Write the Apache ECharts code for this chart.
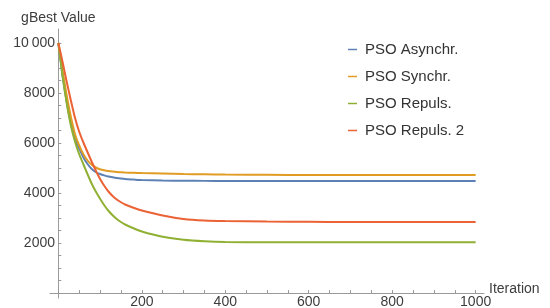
<!DOCTYPE html>
<html>
<head>
<meta charset="utf-8">
<script src="https://cdn.jsdelivr.net/npm/echarts@6/dist/echarts.min.js"></script>
<style>
  html, body { margin: 0; padding: 0; background: #fff; }
  #main { width: 550px; height: 308px; }
</style>
</head>
<body>
<div id="main"></div>
<script>
// iterations
var iterations = [0, 10, 20, 30, 40, 50, 60, 70, 80, 90, 100, 110, 120, 130, 140, 150, 160, 180, 200, 250, 300, 350, 400, 500, 600, 700, 800, 900, 1000];

var asynchr = [10000, 8700, 7650, 6800, 6150, 5780, 5420, 5160, 4960, 4830, 4760, 4705, 4660, 4628, 4600, 4578, 4560, 4540, 4520, 4500, 4490, 4485, 4480, 4480, 4480, 4480, 4480, 4480, 4480];
var synchr  = [10000, 8900, 7900, 7050, 6350, 5900, 5550, 5300, 5130, 5020, 4950, 4910, 4880, 4858, 4840, 4830, 4820, 4810, 4800, 4780, 4760, 4750, 4740, 4730, 4720, 4720, 4720, 4720, 4720];
var repuls  = [10000, 8700, 7600, 6700, 6050, 5550, 5150, 4750, 4370, 4050, 3770, 3510, 3290, 3110, 2960, 2840, 2740, 2590, 2460, 2250, 2130, 2070, 2040, 2030, 2030, 2030, 2030, 2030, 2030];
var repuls2 = [10000, 9250, 8450, 7700, 7000, 6450, 6020, 5630, 5250, 4890, 4560, 4290, 4060, 3880, 3740, 3630, 3540, 3410, 3300, 3100, 2960, 2900, 2880, 2860, 2850, 2840, 2840, 2840, 2840];

var seriesNames = ['PSO Asynchr.', 'PSO Synchr.', 'PSO Repuls.', 'PSO Repuls. 2'];
var seriesColors = ['#5E81B5', '#E19C24', '#8FB032', '#EB6235'];

var xLabels = [200, 400, 600, 800, 1000];
var yLabels = [2000, 4000, 6000, 8000, 10000];

var xTicks = [];
for (var i = 0; i <= 1000; i += 50) xTicks.push(i);
var yTicks = [];
for (var j = 0; j <= 10000; j += 500) yTicks.push(j);

function pairs(ys) {
  return iterations.map(function (x, k) { return [x, ys[k]]; });
}

var textColor = '#3d3d3d';
var axisColor = '#9a9a9a';

var myChart = echarts.init(document.getElementById('main'));
myChart.setOption({
  animation: false,
  textStyle: { fontFamily: 'Liberation Sans, Arial, sans-serif' },
  grid: { left: 50, right: 66, top: 29, bottom: 10, outerBoundsMode: 'none' },
  legend: {
    orient: 'vertical',
    left: 343,
    top: 37,
    itemGap: 12,
    icon: 'rect',
    itemWidth: 9,
    itemHeight: 1.5,
    data: seriesNames,
    textStyle: { fontSize: 15, color: '#333', padding: [0, 0, 0, 3] }
  },
  xAxis: {
    type: 'value',
    min: -20,
    max: 1020,
    name: 'Iteration',
    nameLocation: 'end',
    nameGap: 5,
    nameMoveOverlap: false,
    nameTextStyle: { fontSize: 14, color: textColor, align: 'left', verticalAlign: 'bottom', lineHeight: 8 },
    axisLine: { onZero: true, lineStyle: { color: axisColor, width: 1 } },
    axisTick: { inside: true, length: 3, customValues: xTicks, lineStyle: { color: axisColor } },
    axisLabel: {
      customValues: xLabels,
      fontSize: 14,
      color: textColor,
      margin: -3,
      formatter: function (v) { return String(v); }
    },
    splitLine: { show: false }
  },
  yAxis: {
    type: 'value',
    min: -200,
    max: 10560,
    name: 'gBest Value',
    nameLocation: 'end',
    nameGap: 4,
    nameTextStyle: { fontSize: 14, color: textColor, align: 'center' },
    axisLine: { show: true, onZero: true, lineStyle: { color: axisColor, width: 1 } },
    axisTick: { show: true, inside: true, length: 3, customValues: yTicks, lineStyle: { color: axisColor } },
    axisLabel: {
      customValues: yLabels,
      fontSize: 14,
      color: textColor,
      margin: -5,
      formatter: function (v) { return v === 10000 ? '10\u2009000' : String(v); }
    },
    splitLine: { show: false }
  },
  series: seriesNames.map(function (name, k) {
    var data = [asynchr, synchr, repuls, repuls2][k];
    return {
      name: name,
      type: 'line',
      data: pairs(data),
      showSymbol: false,
      smooth: 0.2,
      color: seriesColors[k],
      lineStyle: { width: 2, color: seriesColors[k] }
    };
  })
});
</script>
</body>
</html>
